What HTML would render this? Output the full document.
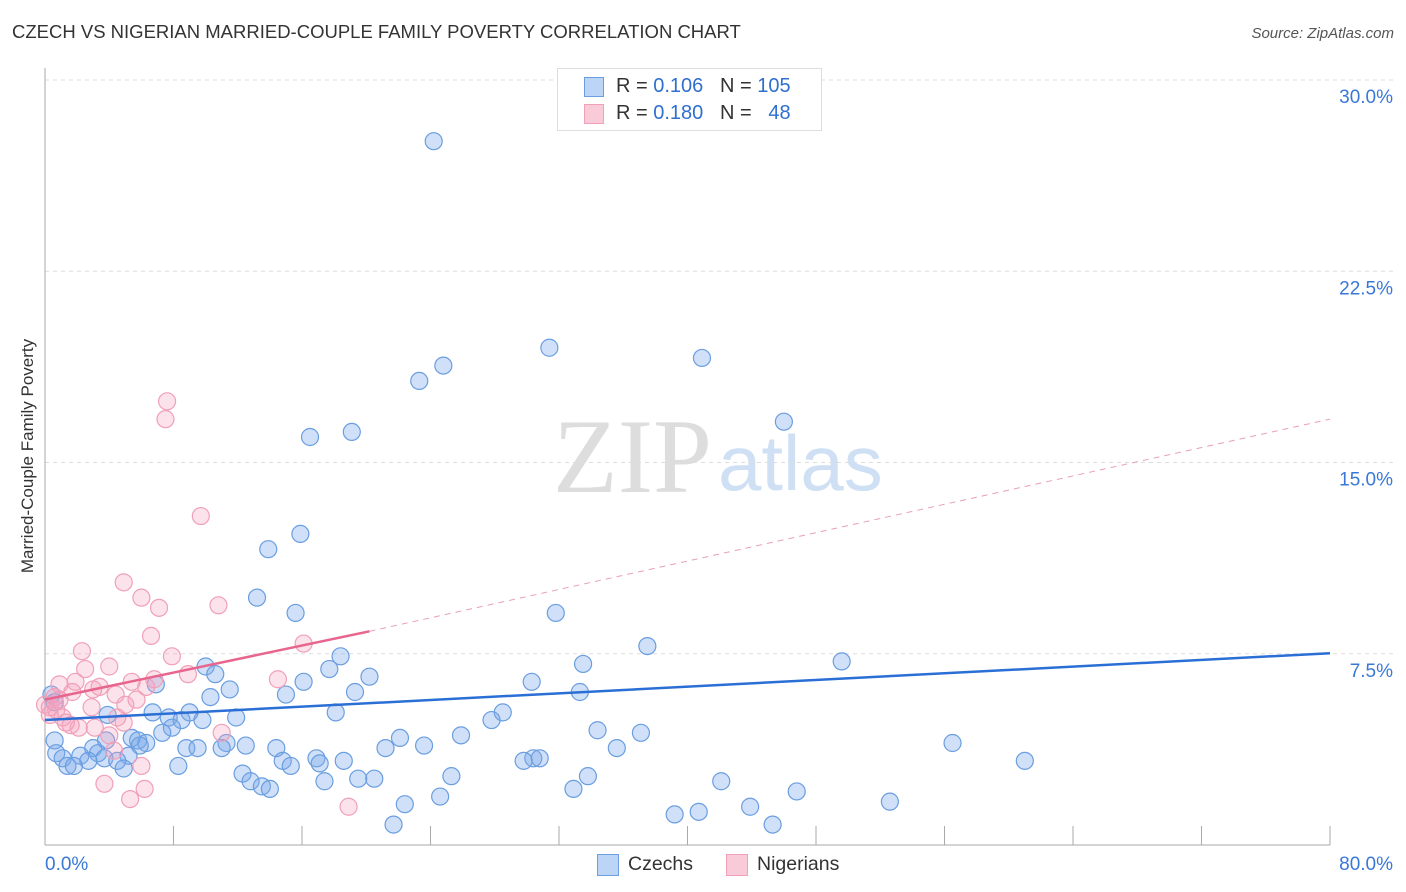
<!DOCTYPE html>
<html><head><meta charset="utf-8">
<style>
body{margin:0;background:#fff;font-family:"Liberation Sans",sans-serif;}
#wrap{position:relative;width:1406px;height:892px;overflow:hidden;}
.t{position:absolute;white-space:nowrap;}
</style></head>
<body>
<div id="wrap">
<div class="t" style="left:12px;top:21px;font-size:18.5px;color:#333;">CZECH VS NIGERIAN MARRIED-COUPLE FAMILY POVERTY CORRELATION CHART</div>
<div class="t" style="right:12px;top:25px;font-size:15px;color:#555;font-style:italic;">Source: ZipAtlas.com</div>
<div class="t" style="left:18px;top:456px;transform:translate(-50%,-50%) rotate(-90deg);transform-origin:center;font-size:17px;color:#333;margin-left:10px;">Married-Couple Family Poverty</div>
<svg id="chart" width="1406" height="892" style="position:absolute;left:0;top:0">
<text x="553" y="492" font-family="Liberation Serif" font-size="106" fill="#ddd">ZIP</text>
<text x="718" y="490" font-family="Liberation Sans" font-size="78" fill="#cfe0f5">atlas</text>
<g id="grid"></g><g id="pts"></g><g id="lines"></g>
</svg>
<div style="position:absolute;left:557px;top:68px;width:263px;height:61px;border:1px solid #ddd;background:#fff;">
 <div style="position:absolute;left:26px;top:8px;width:18px;height:18px;background:#bcd4f5;border:1px solid #6a9ee0;"></div>
 <div class="t" style="left:58px;top:6px;font-size:20px;color:#333;">R = <span style="color:#2f6fd0">0.106</span>&nbsp;&nbsp;&nbsp;N = <span style="color:#2f6fd0">105</span></div>
 <div style="position:absolute;left:26px;top:35px;width:18px;height:18px;background:#f9cbd8;border:1px solid #f0a0b8;"></div>
 <div class="t" style="left:58px;top:33px;font-size:20px;color:#333;">R = <span style="color:#2f6fd0">0.180</span>&nbsp;&nbsp;&nbsp;N = &nbsp;&nbsp;<span style="color:#2f6fd0">48</span></div>
</div>
<div style="position:absolute;left:597px;top:854px;width:20px;height:20px;background:#bcd4f5;border:1px solid #6a9ee0;"></div>
<div class="t" style="left:628px;top:853px;font-size:19.5px;color:#333;">Czechs</div>
<div style="position:absolute;left:726px;top:854px;width:20px;height:20px;background:#f9cbd8;border:1px solid #f0a0b8;"></div>
<div class="t" style="left:757px;top:853px;font-size:19.5px;color:#333;">Nigerians</div>
</div>
<script>
const czechX=[24.2,31.4,40.9,24.8,23.3,46.0,19.1,16.5,15.9,13.9,13.2,15.6,31.8,37.5,18.4,49.6,33.5,10.0,17.7,10.6,20.2,16.1,30.3,6.9,11.5,19.3,33.3,15.0,10.3,0.4,0.6,9.0,6.7,18.1,28.5,3.9,7.7,11.9,27.8,8.5,9.8,7.9,34.4,7.3,37.1,25.9,22.1,5.4,5.8,3.8,6.3,11.3,56.5,5.9,12.5,23.6,35.6,8.8,9.5,21.2,11.0,0.6,3.0,3.3,14.4,0.7,2.2,5.2,3.7,16.9,30.4,1.1,2.7,14.8,18.6,30.8,29.8,61.0,4.5,17.1,1.4,1.8,8.3,15.3,4.9,12.3,25.3,33.8,19.5,20.5,17.4,42.1,12.8,13.5,14.0,32.9,46.8,24.6,52.6,22.4,43.9,40.7,39.2,21.7,45.3];
const czechY=[27.6,19.5,19.1,18.8,18.2,16.6,16.2,16.0,12.2,11.6,9.7,9.1,9.1,7.8,7.4,7.2,7.1,7.0,6.9,6.7,6.6,6.4,6.4,6.3,6.1,6.0,6.0,5.9,5.8,5.9,5.6,5.2,5.2,5.2,5.2,5.1,5.0,5.0,4.9,4.9,4.9,4.6,4.5,4.4,4.4,4.3,4.2,4.2,4.1,4.1,4.0,4.0,4.0,3.9,3.9,3.9,3.8,3.8,3.8,3.8,3.8,4.1,3.8,3.6,3.8,3.6,3.5,3.5,3.4,3.4,3.4,3.4,3.3,3.3,3.3,3.4,3.3,3.3,3.3,3.2,3.1,3.1,3.1,3.1,3.0,2.8,2.7,2.7,2.6,2.6,2.5,2.5,2.5,2.3,2.2,2.2,2.1,1.9,1.7,1.6,1.5,1.3,1.2,0.8,0.8];
const nigX=[7.6,7.5,9.7,4.9,6.0,7.1,10.8,6.6,16.1,2.3,7.9,4.0,2.5,8.9,6.8,5.4,14.5,0.9,1.9,3.4,6.3,3.0,1.7,4.4,0.6,5.7,5.0,0.3,2.9,0.7,0.3,1.1,4.5,1.3,4.9,1.6,2.1,3.1,11.0,4.0,4.3,6.0,3.7,6.2,5.3,18.9,0.9,0.0];
const nigY=[17.4,16.7,12.9,10.3,9.7,9.3,9.4,8.2,7.9,7.6,7.4,7.0,6.9,6.7,6.5,6.4,6.5,6.3,6.4,6.2,6.2,6.1,6.0,5.9,5.8,5.7,5.5,5.4,5.4,5.3,5.1,5.0,5.0,4.8,4.8,4.7,4.6,4.6,4.4,4.3,3.7,3.1,2.4,2.2,1.8,1.5,5.7,5.5];
const czechTrend=[4.9,7.52];
const nigTrend=[5.7,8.38,16.7];
const yTicks=[7.5,15,22.5,30];
const yTickLabels=["7.5%","15.0%","22.5%","30.0%"];
const xTicks=[0,8,16,24,32,40,48,56,64,72,80];
const xLabels=["0.0%","80.0%"];
const sx=v=>45+v*(1330-45)/80;
const sy=v=>845-v*(845-80)/30;
const NS="http://www.w3.org/2000/svg";
function mk(tag,attrs,parent){const e=document.createElementNS(NS,tag);for(const k in attrs)e.setAttribute(k,attrs[k]);parent.appendChild(e);return e;}
const grid=document.getElementById('grid'),pts=document.getElementById('pts'),lines=document.getElementById('lines');
yTicks.forEach((t,i)=>{
 const l=mk('line',{x1:45,x2:1393,y1:sy(t),y2:sy(t),stroke:'#ddd','stroke-dasharray':'4,4'},grid);
 
 
 const tx=mk('text',{x:1393,y:sy(t)+23,'text-anchor':'end','font-size':19,fill:'#3a78d8','font-family':'Liberation Sans'},grid);
 tx.textContent=yTickLabels[i];
 
 
});
const ax=mk('line',{x1:45,x2:1330,y1:845,y2:845,stroke:'#aaa'},grid);


const ay=mk('line',{x1:45,x2:45,y1:68,y2:845,stroke:'#aaa'},grid);


xTicks.forEach(t=>{
 const l=mk('line',{x1:sx(t),x2:sx(t),y1:826,y2:845,stroke:'#aaa'},grid);
 
 
});
[[0,'start',45],[80,'end',1393]].forEach((a,i)=>{
 const tx=mk('text',{x:a[2],y:870,'text-anchor':a[1],'font-size':19,fill:'#3a78d8','font-family':'Liberation Sans'},grid);
 tx.textContent=xLabels[i];
 
 
});
czechX.forEach((x,i)=>{
 const c=mk('circle',{cx:sx(x),cy:sy(czechY[i]),r:8.5,fill:'rgba(120,165,235,0.35)',stroke:'#6a9ee0','stroke-width':1.2},pts);
 
 
});
nigX.forEach((x,i)=>{
 const c=mk('circle',{cx:sx(x),cy:sy(nigY[i]),r:8.5,fill:'rgba(245,160,190,0.3)',stroke:'#f0a0b8','stroke-width':1.2},pts);
 
 
});
const bt=mk('line',{x1:sx(0),y1:sy(czechTrend[0]),x2:sx(80),y2:sy(czechTrend[1]),stroke:'#2a6fd6','stroke-width':2.5},lines);


const pt=mk('line',{x1:sx(0),y1:sy(nigTrend[0]),x2:sx(20.2),y2:sy(nigTrend[1]),stroke:'#e8658e','stroke-width':2.5},lines);


const pd=mk('line',{x1:sx(20.2),y1:sy(nigTrend[1]),x2:sx(80),y2:sy(nigTrend[2]),stroke:'#e8a0b8','stroke-width':1,'stroke-dasharray':'6,5'},lines);


</script>
</body></html>
